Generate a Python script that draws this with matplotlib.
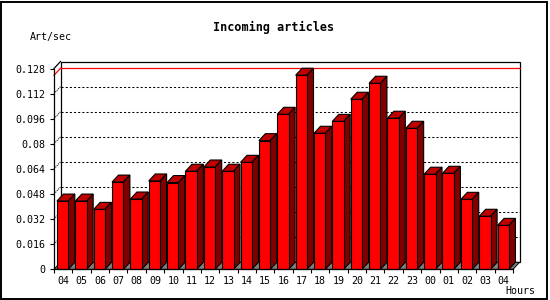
import matplotlib
matplotlib.use("Agg")
import matplotlib.pyplot as plt
import numpy as np
from matplotlib.patches import Polygon, Rectangle

# hourly article rate
hours = ["04", "05", "06", "07", "08", "09", "10", "11", "12", "13", "14", "15",
         "16", "17", "18", "19", "20", "21", "22", "23", "00", "01", "02", "03", "04"]
rates = [0.0435, 0.0435, 0.0382, 0.0556, 0.0448, 0.0563, 0.0553, 0.0625, 0.0652,
         0.0625, 0.0682, 0.0820, 0.0988, 0.1237, 0.0867, 0.0943, 0.1084, 0.1186,
         0.0963, 0.0899, 0.0606, 0.0612, 0.0446, 0.0338, 0.0280]
y_ticks = [0, 0.016, 0.032, 0.048, 0.064, 0.08, 0.096, 0.112, 0.128]

W, H, DPI = 550, 300, 100
# front plane of the plot in pixels
X0, X1, Y0, Y1 = 54, 513, 269.3, 68.5
DEPTH_X, DEPTH_Y = 6.5, 7.0          # 3D offset in pixels
FRONT, TOP, SIDE = "#ff0000", "#c00000", "#800000"
MONO = "DejaVu Sans Mono"

n = len(rates)
ymax = y_ticks[-1]
dx = DEPTH_X / ((X1 - X0) / n)       # depth in category units
dy = DEPTH_Y / ((Y0 - Y1) / ymax)    # depth in value units

fig = plt.figure(figsize=(W / DPI, H / DPI), dpi=DPI)
ax = fig.add_axes([X0 / W, (H - Y0) / H, (X1 - X0) / W, (Y0 - Y1) / H])
ax.set_xlim(0, n)
ax.set_ylim(0, ymax)
ax.patch.set_visible(False)
for s in ("top", "right"):
    ax.spines[s].set_visible(False)
for s in ("left", "bottom"):
    ax.spines[s].set_linewidth(0.9)
    ax.spines[s].set_zorder(6)

# back wall, floor and grid
ax.add_patch(Rectangle((dx, dy), n, ymax, facecolor="white", edgecolor="black",
                       lw=0.9, zorder=1, clip_on=False))
ax.add_patch(Polygon([(0, 0), (n, 0), (n + dx, dy), (dx, dy)], closed=True,
                     facecolor="#808080", edgecolor="black", lw=0.7, zorder=2,
                     clip_on=False))
for v in y_ticks[1:-1]:
    ax.plot([dx, n + dx], [v + dy, v + dy], color="black", lw=0.75,
            dashes=(2, 2), zorder=1.5, clip_on=False)
    ax.plot([0, dx], [v, v + dy], color="black", lw=0.75, dashes=(1, 1),
            zorder=1.5, clip_on=False)
ax.plot([0, dx], [ymax, ymax + dy], color="black", lw=0.9, zorder=1.5, clip_on=False)

peak = max(rates)
ax.plot([dx, n + dx], [peak + dy, peak + dy], color=FRONT, lw=0.9, zorder=1.6,
        clip_on=False)
ax.plot([0, dx], [peak, peak + dy], color=FRONT, lw=0.9, zorder=1.6, clip_on=False)

# 3D bars
off, bw = 0.16, 0.62
for i, v in enumerate(rates):
    x = i + off
    ax.add_patch(Polygon([(x, v), (x + dx, v + dy), (x + bw + dx, v + dy), (x + bw, v)],
                         closed=True, facecolor=TOP, edgecolor="black", lw=0.8,
                         zorder=3, clip_on=False))
    ax.add_patch(Polygon([(x + bw, 0), (x + bw + dx, dy), (x + bw + dx, v + dy), (x + bw, v)],
                         closed=True, facecolor=SIDE, edgecolor="black", lw=0.8,
                         zorder=3, clip_on=False))
    ax.add_patch(Rectangle((x, 0), bw, v, facecolor=FRONT, edgecolor="black",
                           lw=0.8, zorder=3.1, clip_on=False))

# ticks
ax.set_yticks(y_ticks)
ax.set_yticklabels([f"{t:g}" for t in y_ticks])
ax.tick_params(axis="y", length=3, width=0.8, pad=3.5, labelsize=7.2)
ax.set_xticks(np.arange(n + 1))
ax.set_xticklabels([])
ax.set_xticks(np.arange(n) + 0.5, minor=True)
ax.set_xticklabels(hours, minor=True)
ax.tick_params(axis="x", which="major", length=3, width=0.8, direction="out")
ax.tick_params(axis="x", which="minor", length=0, pad=5, labelsize=7.2)
for lab in ax.get_xticklabels(minor=True) + ax.get_yticklabels():
    lab.set_family(MONO)

fig.text(274 / W, 1 - 27 / H, "Incoming articles", ha="center", va="center",
         family=MONO, fontweight="bold", fontsize=8.5)
fig.text(30 / W, 1 - 37 / H, "Art/sec", ha="left", va="center", family=MONO,
         fontsize=7.2)
fig.text(505 / W, 1 - 291 / H, "Hours", ha="left", va="center", family=MONO,
         fontsize=7.2)

# outer frame
fig.add_artist(Rectangle((0.8 / W, 1.5 / H), 546.5 / W, 297 / H, transform=fig.transFigure,
                         facecolor="none", edgecolor="black", lw=1.4))

fig.savefig("out.png", dpi=DPI)
